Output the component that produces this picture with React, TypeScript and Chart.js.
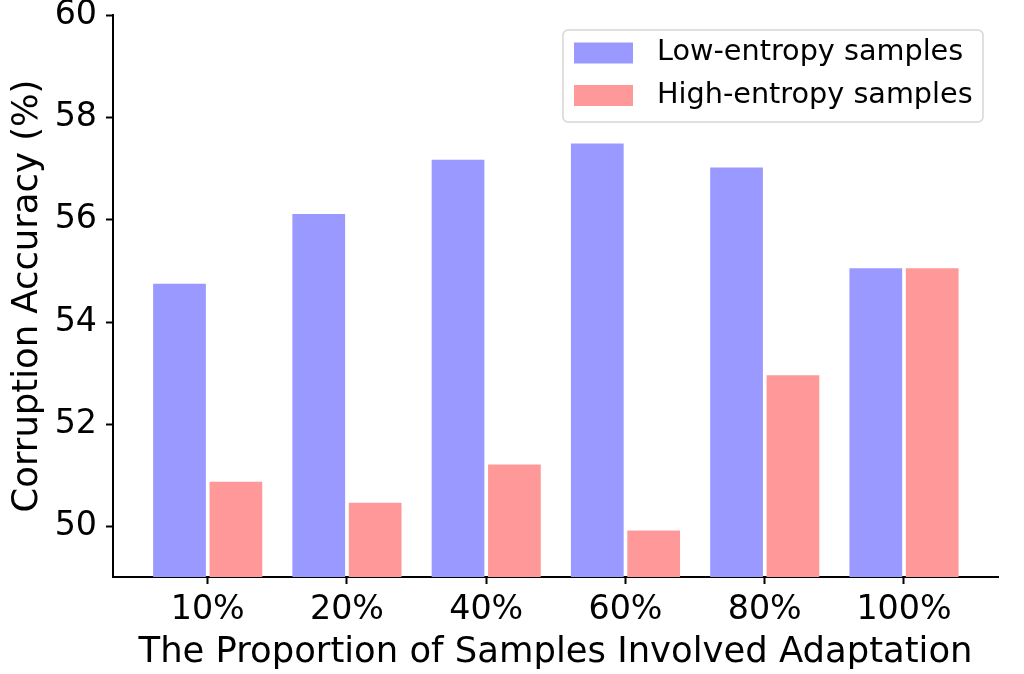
import React, { useEffect, useRef } from "react";
import { Chart, registerables } from "chart.js";

Chart.register(...registerables);

const categories = ["10%", "20%", "40%", "60%", "80%", "100%"];
const lowEntropy = [54.75, 56.11, 57.17, 57.49, 57.02, 55.05];
const highEntropy = [50.88, 50.47, 51.22, 49.93, 52.96, 55.05];
const yTicks = [50, 52, 54, 56, 58, 60];
const seriesLabels = ["Low-entropy samples", "High-entropy samples"];
const seriesColors = ["rgba(153,153,255,1)", "rgba(255,153,153,1)"];

const FONT = "'DejaVu Sans', sans-serif";

const legendPlugin = {
  id: "boxLegend",
  afterDraw(chart: any) {
    const ctx = chart.ctx as CanvasRenderingContext2D;
    const x0 = 563, y0 = 30, w = 420, h = 92, r = 5;
    ctx.save();
    ctx.beginPath();
    ctx.moveTo(x0 + r, y0);
    ctx.arcTo(x0 + w, y0, x0 + w, y0 + h, r);
    ctx.arcTo(x0 + w, y0 + h, x0, y0 + h, r);
    ctx.arcTo(x0, y0 + h, x0, y0, r);
    ctx.arcTo(x0, y0, x0 + w, y0, r);
    ctx.closePath();
    ctx.fillStyle = "rgba(255,255,255,0.85)";
    ctx.fill();
    ctx.strokeStyle = "#d6d6d6";
    ctx.lineWidth = 1.5;
    ctx.stroke();
    const rows = [53, 95.5];
    chart.data.datasets.forEach((ds: any, i: number) => {
      const cy = rows[i];
      ctx.fillStyle = ds.backgroundColor;
      ctx.fillRect(574, cy - 10.5, 59, 21);
      ctx.fillStyle = "#000";
      ctx.font = `28.7px ${FONT}`;
      ctx.textBaseline = "middle";
      ctx.textAlign = "left";
      ctx.fillText(ds.label, 657, cy);
    });
    ctx.restore();
  },
};

export default function App() {
  const ref = useRef<HTMLCanvasElement | null>(null);
  useEffect(() => {
    if (!ref.current) return;
    const chart = new Chart(ref.current, {
      type: "bar",
      data: {
        datasets: [
          {
            label: seriesLabels[0],
            data: lowEntropy.map((v, i) => ({ x: i, y: v })),
            backgroundColor: seriesColors[0],
          },
          {
            label: seriesLabels[1],
            data: highEntropy.map((v, i) => ({ x: i, y: v })),
            backgroundColor: seriesColors[1],
          },
        ],
      },
      plugins: [legendPlugin],
      options: {
        animation: false,
        responsive: false,
        devicePixelRatio: 1,
        categoryPercentage: 0.81,
        barPercentage: 0.935,
        layout: { padding: { left: 0, right: 26, top: 15, bottom: 0 } },
        plugins: { legend: { display: false }, tooltip: { enabled: false } },
        scales: {
          x: {
            type: "linear",
            min: -0.68,
            max: 5.675,
            offset: false,
            afterBuildTicks: (axis: any) => {
              axis.ticks = categories.map((_, i) => ({ value: i }));
            },
            afterFit: (scale: any) => {
              scale.height = 97;
            },
            grid: {
              display: true,
              offset: false,
              drawOnChartArea: false,
              drawTicks: true,
              tickLength: 7,
              tickColor: "#000",
              tickWidth: 2,
            },
            border: { display: true, color: "#000", width: 2 },
            ticks: {
              color: "#000",
              padding: 6,
              maxRotation: 0,
              autoSkip: false,
              font: { family: FONT, size: 33.3, lineHeight: 1.2 },
              callback: (v: any) => categories[Math.round(Number(v))] ?? "",
            },
            title: {
              display: true,
              text: "The Proportion of Samples Involved Adaptation",
              color: "#000",
              font: { family: FONT, size: 35.4, lineHeight: 1.2 },
              padding: { top: 0, bottom: 0 },
            },
          },
          y: {
            type: "linear",
            min: 49.02,
            max: 60,
            afterBuildTicks: (axis: any) => {
              axis.ticks = yTicks.map((v) => ({ value: v }));
            },
            afterFit: (scale: any) => {
              scale.width = 113;
            },
            grid: {
              display: true,
              drawOnChartArea: false,
              drawTicks: true,
              tickLength: 7,
              tickColor: "#000",
              tickWidth: 2,
            },
            border: { display: true, color: "#000", width: 2 },
            ticks: {
              color: "#000",
              padding: 9,
              font: { family: FONT, size: 33.3, lineHeight: 0.3 },
              callback: (v: any) => String(v),
            },
            title: {
              display: true,
              text: "Corruption Accuracy (%)",
              color: "#000",
              font: { family: FONT, size: 35.4, lineHeight: 1.2 },
              padding: { top: 6.4, bottom: 0 },
            },
          },
        },
      },
    } as any);
    return () => chart.destroy();
  }, []);
  return (
    <div style={{ position: "fixed", left: 0, top: 0, width: 1024, height: 674, background: "#fff" }}>
      <canvas ref={ref} width={1024} height={674} style={{ width: 1024, height: 674, display: "block" }} />
    </div>
  );
}
